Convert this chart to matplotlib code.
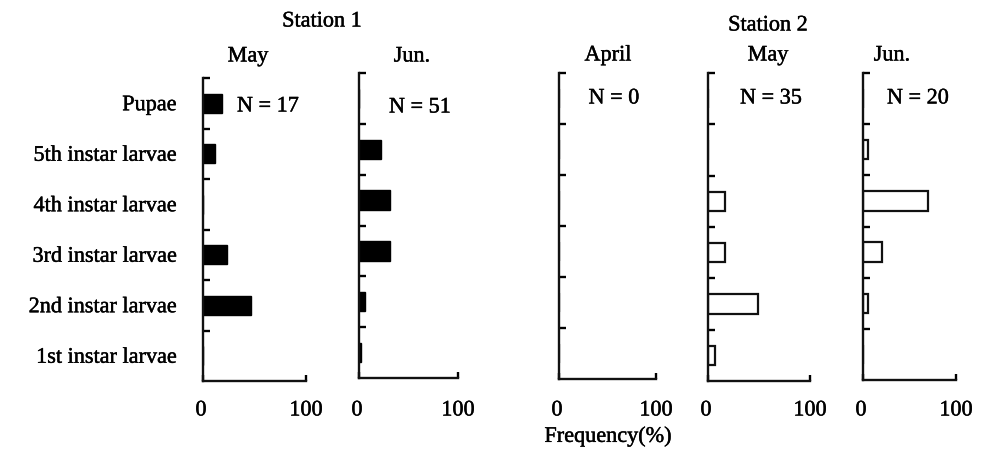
import numpy as np
import matplotlib
matplotlib.use('Agg')
import matplotlib.pyplot as plt
import matplotlib.patheffects as pe

plt.rcParams['font.family'] = 'Liberation Serif'
plt.rcParams['font.size'] = 16

# stages, bottom to top
stages = ['1st instar larvae', '2nd instar larvae', '3rd instar larvae',
          '4th instar larvae', '5th instar larvae', 'Pupae']

# frequency (%) of each stage, bottom to top
s1_may = [0, 47, 23, 0, 12, 18]
s1_jun = [2, 6, 31, 31, 22, 0]
s2_apr = [0, 0, 0, 0, 0, 0]
s2_may = [7, 49, 17, 17, 0, 0]
s2_jun = [0, 5, 20, 70, 5, 0]

months = ['May', 'Jun.', 'April', 'May', 'Jun.']
n_vals = [17, 51, 0, 35, 20]
series = [s1_may, s1_jun, s2_apr, s2_may, s2_jun]
filled = [True, True, False, False, False]

W, H = 982, 452
# panel boxes in pixels: left, right, top, bottom
boxes = [(203, 306, 79, 382), (359, 458, 74, 379), (559, 656, 74, 380),
         (708, 810, 74, 382), (863, 956, 74, 381)]
# text anchors in pixels
month_xy = [(248, 58), (412, 58), (608, 57), (768, 57), (892, 57)]
n_xy = [(268, 108), (420, 109), (614, 100), (771, 100), (918, 100)]

# a little heavier than plain Liberation Serif, like the scanned original
heavy = [pe.withStroke(linewidth=0.3, foreground='black')]

fig = plt.figure(figsize=(W / 100, H / 100), dpi=100)


def fx(x):
    return x / W


def fy(y):
    return 1 - y / H


def label(x, y, s):
    fig.text(fx(x), fy(y), s, ha='center', va='center', path_effects=heavy)


y = np.arange(len(stages)) + 0.5
for i, vals in enumerate(series):
    l, r, t, b = boxes[i]
    ax = fig.add_axes([fx(l), fy(b), (r - l) / W, (b - t) / H])
    if filled[i]:
        ax.barh(y, vals, height=0.38, color='black', edgecolor='black', linewidth=1.0)
    else:
        ax.barh(y, vals, height=0.38, color='white', edgecolor='#111111', linewidth=1.6)
    ax.set_xlim(0, 100)
    ax.set_ylim(0, 6)
    for s in ['top', 'right']:
        ax.spines[s].set_visible(False)
    for s in ['left', 'bottom']:
        ax.spines[s].set_linewidth(1.7)
        ax.spines[s].set_color('#111111')
    ax.set_xticks([0, 100])
    ax.set_xticklabels([])
    ax.set_yticks(np.arange(1, 7))
    ax.set_yticklabels([])
    ax.tick_params(axis='x', direction='in', length=4, width=1.7)
    ax.tick_params(axis='y', which='major', direction='in', length=5, width=1.7)
    if i == 0:
        ax.set_yticks(y, minor=True)
        ax.set_yticklabels(stages, minor=True)
        ax.tick_params(axis='y', which='minor', length=0, pad=19)
        for tl in ax.get_yticklabels(minor=True):
            tl.set_path_effects(heavy)
    ax.patch.set_alpha(0)

    # axis end labels sit on one line below all panels
    label(l - 2, 412, '0')
    label(r, 412, '100')
    label(month_xy[i][0], month_xy[i][1], months[i])
    label(n_xy[i][0], n_xy[i][1], 'N = %d' % n_vals[i])

label(322, 23, 'Station 1')
label(768, 27, 'Station 2')
label(608, 438, 'Frequency(%)')

fig.savefig('out.png', dpi=100)
